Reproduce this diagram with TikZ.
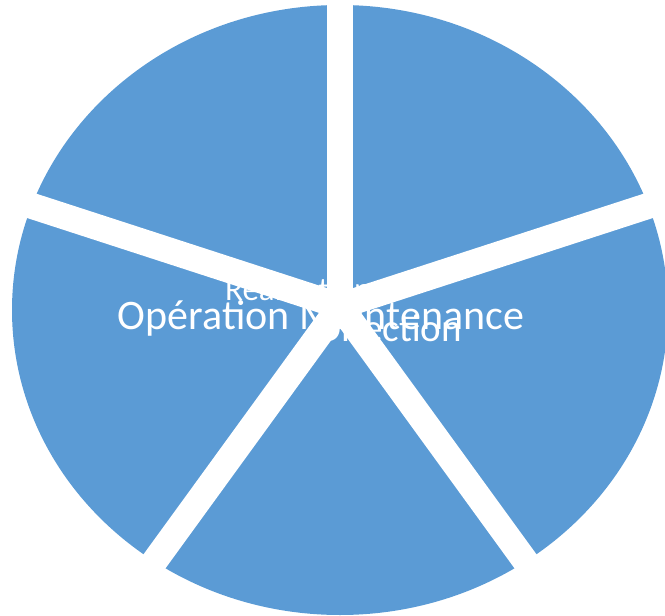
\documentclass[tikz,border=0pt]{standalone}
\usepackage{fontspec}
\setmainfont{Carlito}
\usetikzlibrary{calc}
\definecolor{pieblue}{HTML}{5B9BD5}
\begin{document}
\begin{tikzpicture}[x=1pt,y=-1pt,
  gapline/.style={white,line width=26pt},
  lbl/.style={text=white,inner sep=0pt,anchor=base}]
\useasboundingbox (0,0) rectangle (665,616);
\clip (0,0) rectangle (665,616);
\coordinate (c) at (340,306);
% pie body
\fill[pieblue] (340,310) ellipse [x radius=328, y radius=305];
% labels
\node[lbl,anchor=base west,font=\fontsize{33}{39}\selectfont] (t1) at (225,300) {Réalisation};
\node[lbl,font=\fontsize{42}{50}\selectfont] (t2) at (321,329) {Opération Maintenance};
\node[lbl,anchor=base east,font=\fontsize{39}{47}\selectfont] (t3) at (462,341) {Direction};
% gaps between slices
\foreach \a in {-90,-18,54,126,198}{
  \draw[gapline] ($(c)+(\a:-6)$) -- ++(\a:460);
}
\end{tikzpicture}
\end{document}
